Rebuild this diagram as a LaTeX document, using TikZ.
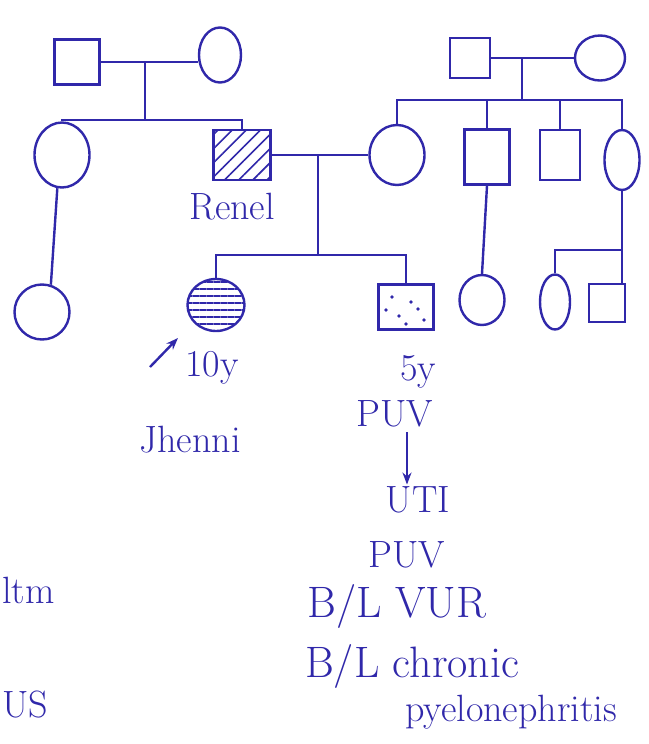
\documentclass[tikz,border=0pt]{standalone}
\usetikzlibrary{shapes.geometric,patterns.meta,arrows.meta}
\definecolor{ink}{RGB}{48,40,170}
\begin{document}
\begin{tikzpicture}[x=1pt,y=-1pt,line width=2.4pt,draw=ink,
  every node/.style={line width=2.4pt},
  male/.style={draw,rectangle,inner sep=0pt},
  female/.style={draw,ellipse,inner sep=0pt},
  lbl/.style={text=ink,font=\fontsize{38}{42}\selectfont,inner sep=1pt},
  biglbl/.style={lbl,font=\fontsize{44}{48}\selectfont},
  arr/.style={-{Stealth[length=12pt,width=9pt]}}]
\useasboundingbox[fill=white] (0,0) rectangle (648,744);
% generation I left
\node[male,minimum width=45pt,minimum height=45pt] (g1m) at (77,62) {};
\node[female,minimum width=42pt,minimum height=55pt] (g1f) at (220,55) {};
\coordinate (m1) at (145,62);
\coordinate (s1) at (145,120);
% generation II left
\node[female,minimum width=55pt,minimum height=65pt] (c1) at (62,155) {};
\node[male,minimum width=57pt,minimum height=50pt,
  pattern={Lines[angle=45,distance=10pt,line width=1.6pt]},pattern color=ink] (renel) at (242,155) {};
\node[female,minimum width=55pt,minimum height=60pt] (spouse) at (397,155) {};
% generation I right
\node[male,minimum width=40pt,minimum height=40pt] (g2m) at (470,58) {};
\node[female,minimum width=50pt,minimum height=45pt] (g2f) at (600,58) {};
\coordinate (m3) at (522,58);
\coordinate (s3) at (522,100);
% generation II right
\node[male,minimum width=45pt,minimum height=55pt] (s2a) at (487,157) {};
\node[male,minimum width=40pt,minimum height=50pt] (s2b) at (560,155) {};
\node[female,minimum width=35pt,minimum height=60pt] (s2c) at (622,160) {};
% generation III
\node[female,minimum width=55pt,minimum height=55pt] (gc1) at (42,312) {};
\node[female,minimum width=57pt,minimum height=52pt,
  pattern={Lines[angle=0,distance=7pt,line width=1.5pt]},pattern color=ink] (proband) at (216,305) {};
\node[male,minimum width=55pt,minimum height=45pt] (son) at (406,307) {};
\node[female,minimum width=45pt,minimum height=50pt] (gc2) at (482,300) {};
\node[female,minimum width=30pt,minimum height=55pt] (gc3) at (555,302) {};
\node[male,minimum width=36pt,minimum height=38pt] (gc4) at (607,303) {};
\coordinate (m2) at (318,155);
\coordinate (s2) at (318,255);
\coordinate (s4) at (622,250);
% specks in the son's square
\foreach \p in {(392,297),(411,302),(418,309),(399,316),(424,320),(406,324),(386,310)}
  \fill[ink] \p circle (1.8pt);
% connectors left family
\draw (g1m.east) -- (m1) -- (m1 -| g1f.west);
\draw (m1) -- (s1);
\draw (c1.north) -- (c1.north |- s1) -- (renel.north |- s1) -- (renel.north);
\draw (c1.262) -- (gc1.72);
% marriage Renel
\draw (renel.east) -- (m2) -- (spouse.west);
\draw (m2) -- (s2);
\draw (proband.north) -- (proband.north |- s2) -- (son.north |- s2) -- (son.north);
% right family
\draw (g2m.east) -- (m3) -- (g2f.west);
\draw (m3) -- (s3);
\draw (spouse.north) -- (spouse.north |- s3) -- (s2c.north |- s3) -- (s2c.north);
\draw (s2a.north) -- (s2a.north |- s3);
\draw (s2b.north) -- (s2b.north |- s3);
\draw (s2a.south) -- (gc2.north);
\draw (s2c.south) -- (s2c.south |- gc4.north);
\draw (gc3.north) -- (gc3.north |- s4) -- (s4);
% labels
\node[lbl] (lrenel) at (232,207) {Renel};
\coordinate (arrS) at (150,367);
\coordinate (arrE) at (178,338);
\draw[arr] (arrS) -- (arrE);
\node[lbl] (l10) at (212,368) {10y};
\node[lbl] (ljh) at (190,440) {Jhenni};
\node[lbl] (l5) at (418,372) {5y};
\node[lbl] (lpuv1) at (395,414) {PUV};
\node[lbl] (luti) at (418,500) {UTI};
\coordinate (pa) at (407,432);
\draw[arr] (pa) -- (pa |- luti.north);
\node[lbl] (lpuv2) at (407,555) {PUV};
\node[biglbl] (lvur) at (397,606) {B/L VUR};
\node[biglbl,anchor=west] (lchr) at (303,666) {B/L chronic};
\node[lbl,anchor=west] (lpye) at (403,712) {pyelonephritis};
\node[lbl,anchor=west] (lfr1) at (0,590) {ltm};
\node[lbl,anchor=west] (lfr2) at (0,705) {US};
\end{tikzpicture}
\end{document}
